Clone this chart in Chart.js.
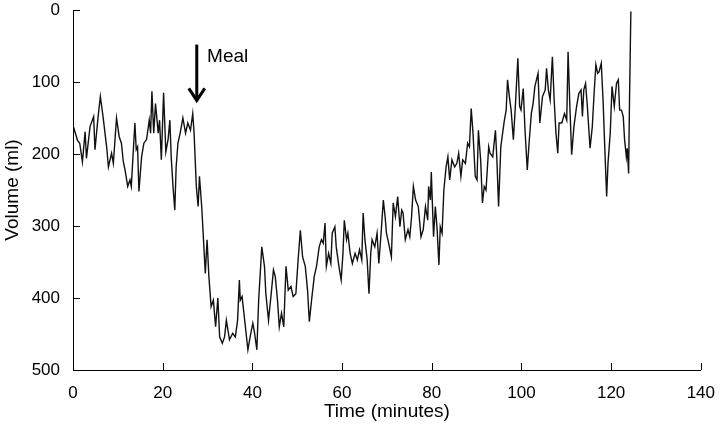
<!DOCTYPE html>
<html>
<head>
<meta charset="utf-8">
<script src="https://cdn.jsdelivr.net/npm/chart.js@4.4.1/dist/chart.umd.min.js"></script>
<style>
  html, body { margin: 0; padding: 0; background: #fff; }
  #chart { display: block; }
</style>
</head>
<body>
<canvas id="chart" width="720" height="428"></canvas>
<script>
// time in minutes
let times = [
  0, 1.0, 1.5, 2.1, 2.7, 3.0, 3.8, 4.6, 4.9, 5.6, 6.1, 6.7, 7.5, 7.9, 8.6, 9.0, 9.7, 10.3, 10.8, 11.2, 11.6, 12.2, 12.7, 13.0, 13.8, 14.1, 14.4, 14.7, 15.3, 15.8, 16.4, 17.0, 17.3, 17.6, 18.0, 18.4, 19.0, 19.3, 19.7, 20.2, 20.7, 21.2, 21.6, 21.9, 22.3, 22.7, 23.0, 23.4, 23.9, 24.5, 25.1, 25.6, 26.2, 26.7, 27.0, 27.5, 27.9, 28.2, 28.7, 29.1, 29.5, 29.9, 30.3, 30.8, 31.3, 31.8, 32.3, 32.7, 33.3, 33.8, 34.2, 34.9, 35.6, 36.2, 36.7, 37.1,
  37.3, 37.7, 38.2, 39.0, 39.5, 40.1, 40.5, 41.0, 41.4, 42.1, 42.7, 43.0, 43.6, 44.2, 44.7, 45.1, 45.6, 46.0, 46.5, 47.0, 47.5, 48.0, 48.6, 49.1, 49.7, 50.2, 50.7, 51.2, 51.8, 52.3, 52.7, 53.2, 53.8, 54.3, 54.9, 55.4, 55.8, 56.2, 56.5, 57.0, 57.5, 57.8, 58.4, 58.7, 59.3, 59.8, 60.2, 60.5, 61.0, 61.3, 61.8, 62.3, 62.9, 63.4, 63.9, 64.4, 64.7, 65.1, 65.6, 66.0, 66.4, 66.7, 67.3, 67.8, 68.2, 68.7, 69.2, 69.6, 69.9, 70.4,
  71.0, 71.4, 71.9, 72.4, 72.9, 73.3, 73.6, 74.1, 74.7, 75.1, 75.5, 75.9, 76.4, 77.0, 77.6, 78.1, 78.6, 79.1, 79.3, 79.7, 79.9, 80.4, 80.8, 81.2, 81.6, 81.9, 82.3, 82.7, 83.2, 83.6, 84.0, 84.5, 85.1, 85.6, 86.0, 86.5, 86.9, 87.5, 88.0, 88.4, 88.8, 89.2, 89.7, 90.1, 90.4, 90.9, 91.3, 91.7, 92.1, 92.7, 93.0, 93.6, 94.2, 94.5, 94.9, 95.4, 95.8, 96.2, 96.6, 96.9, 97.3, 97.7, 98.2, 98.6, 99.2, 99.6, 99.9, 100.4, 100.8, 101.3, 101.7, 102.2, 102.6, 103.0, 103.7,
  104.1, 104.7, 105.3, 105.6, 106.0, 106.4, 106.9, 107.3, 107.7, 108.1, 108.4, 109.0, 109.6, 110.1, 110.4, 110.8, 111.2, 111.7, 112.3, 112.8, 113.3, 113.6, 113.9, 114.3, 114.7, 115.3, 115.8, 116.2, 116.6, 117.0, 117.3, 117.8, 118.2, 118.6, 119.0, 119.3, 119.8, 120.2, 120.7, 121.2, 121.6, 121.9, 122.3, 122.7, 123.0, 123.4, 123.6, 123.9, 124.1, 124.4
];

// gastric volume in ml
let volumes = [
  160, 181, 185, 211, 169, 206, 162, 148, 194, 148, 120, 148, 190, 218, 199, 213, 150, 176, 185, 210, 222, 245, 236, 245, 157, 194, 190, 252, 204, 185, 180, 153, 171, 113, 171, 130, 171, 153, 208, 115, 197, 180, 153, 204, 245, 278, 218, 185, 171, 150, 171, 157, 167, 144, 171, 245, 273, 231, 273, 319, 366, 319, 370, 412, 403, 440, 400, 454, 463, 454, 431, 458, 449, 454, 431, 375,
  403, 398, 426, 472, 454, 435, 449, 472, 403, 329, 356, 394, 431, 394, 361, 370, 403, 440, 421, 440, 356, 389, 384, 398, 394, 347, 306, 343, 356, 389, 433, 403, 370, 356, 329, 319, 324, 296, 356, 338, 352, 310, 301, 329, 356, 375, 338, 292, 319, 310, 338, 352, 338, 347, 333, 347, 282, 319, 347, 394, 338, 319, 329, 310, 352, 310, 264, 287, 310, 324,
  343, 268, 287, 259, 301, 278, 282, 319, 305, 315, 287, 245, 264, 273, 315, 305, 273, 292, 245, 264, 225, 315, 273, 305, 354, 301, 310, 250, 218, 204, 236, 208, 218, 213, 199, 231, 208, 213, 185, 190, 137, 171, 231, 236, 167, 208, 268, 245, 250, 190, 199, 204, 167, 204, 273, 190, 171, 153, 139, 97, 120, 139, 180, 139, 67, 134, 139, 109, 167, 222, 185, 144, 130, 106, 88,
  157, 120, 111, 81, 111, 125, 65, 125, 171, 199, 157, 157, 144, 153, 58, 134, 201, 162, 134, 116, 111, 148, 111, 102, 134, 192, 162, 116, 76, 88, 86, 74, 125, 194, 259, 213, 171, 106, 134, 102, 97, 139, 139, 148, 180, 204, 192, 227, 125, 2
];

let xTicks = [0, 20, 40, 60, 80, 100, 120, 140];
let yTicks = [0, 100, 200, 300, 400, 500];

// where the meal was given
let mealTime = 27.6;
let mealArrowTop = 48;
let mealArrowTip = 127;

let points = times.map((t, i) => ({ x: t, y: volumes[i] }));

const fontFamily = "'Liberation Sans', Arial, Helvetica, sans-serif";

// inward tick marks and the meal arrow
const extras = {
  id: "extras",
  afterDraw(chart) {
    const ctx = chart.ctx;
    const area = chart.chartArea;
    const xs = chart.scales.x;
    const ys = chart.scales.y;

    ctx.save();
    ctx.strokeStyle = "#000";
    ctx.lineWidth = 1;
    ctx.beginPath();
    yTicks.forEach((v) => {
      const py = Math.round(ys.getPixelForValue(v)) + 0.5;
      ctx.moveTo(area.left, py);
      ctx.lineTo(area.left + 7, py);
    });
    xTicks.forEach((v) => {
      const px = Math.round(xs.getPixelForValue(v)) + 0.5;
      ctx.moveTo(px, area.bottom);
      ctx.lineTo(px, area.bottom - 7);
    });
    ctx.stroke();

    const ax = xs.getPixelForValue(mealTime);
    const top = ys.getPixelForValue(mealArrowTop);
    const tip = ys.getPixelForValue(mealArrowTip);
    ctx.lineWidth = 3;
    ctx.lineCap = "butt";
    ctx.lineJoin = "miter";
    ctx.beginPath();
    ctx.moveTo(ax, top);
    ctx.lineTo(ax, tip - 2);
    ctx.stroke();
    ctx.beginPath();
    ctx.moveTo(ax - 8, tip - 13);
    ctx.lineTo(ax, tip - 1);
    ctx.lineTo(ax + 8, tip - 13);
    ctx.stroke();

    ctx.fillStyle = "#000";
    ctx.font = "19px " + fontFamily;
    ctx.textAlign = "left";
    ctx.textBaseline = "middle";
    ctx.fillText("Meal", xs.getPixelForValue(29.9), ys.getPixelForValue(65));
    ctx.restore();
  },
};

let ctx = document.getElementById("chart").getContext("2d");

let volumeChart = new Chart(ctx, {
  type: "line",
  data: {
    datasets: [
      {
        label: "Volume",
        data: points,
        borderColor: "#111",
        borderWidth: 1.4,
        pointRadius: 0,
        tension: 0,
        fill: false,
      },
    ],
  },
  options: {
    responsive: false,
    animation: false,
    devicePixelRatio: 1,
    layout: {
      padding: { left: 0, top: 10, right: 18, bottom: 0 },
    },
    plugins: {
      legend: { display: false },
      tooltip: { enabled: false },
    },
    scales: {
      x: {
        type: "linear",
        min: 0,
        max: 140,
        grid: { display: false },
        border: { display: true, color: "#000", width: 1 },
        afterFit: (scale) => {
          scale.height = 58;
        },
        afterBuildTicks: (scale) => {
          scale.ticks = xTicks.map((v) => ({ value: v }));
        },
        ticks: {
          color: "#000",
          padding: 5,
          maxRotation: 0,
          font: { family: fontFamily, size: 17 },
        },
        title: {
          display: true,
          text: "Time (minutes)",
          color: "#000",
          padding: { top: 0, bottom: 5 },
          font: { family: fontFamily, size: 19 },
        },
      },
      y: {
        type: "linear",
        reverse: true,
        min: 0,
        max: 500,
        grid: { display: false },
        border: { display: true, color: "#000", width: 1 },
        afterFit: (scale) => {
          scale.width = 73;
          scale.paddingTop = 0;
          scale.paddingBottom = 0;
        },
        afterBuildTicks: (scale) => {
          scale.ticks = yTicks.map((v) => ({ value: v }));
        },
        ticks: {
          color: "#000",
          padding: 5,
          font: { family: fontFamily, size: 17 },
        },
        title: {
          display: true,
          text: "Volume (ml)",
          color: "#000",
          padding: { top: 1, bottom: 0 },
          font: { family: fontFamily, size: 19 },
        },
      },
    },
  },
  plugins: [extras],
});
</script>
</body>
</html>
